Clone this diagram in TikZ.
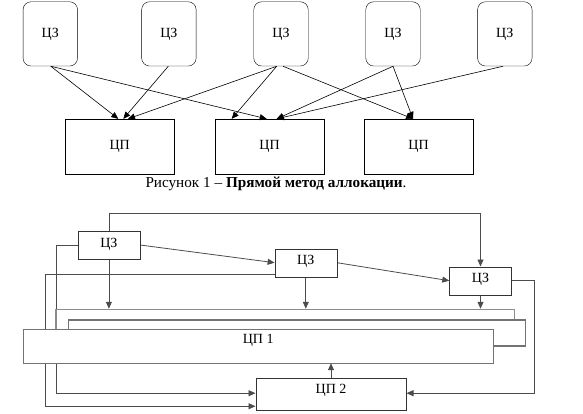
\documentclass[tikz,border=0pt]{standalone}
\usepackage{fontspec}
\setmainfont{Liberation Serif}
\usetikzlibrary{arrows.meta,backgrounds}

\tikzset{
  >={Triangle[length=7pt,width=6pt]},
  lbl/.style={font=\fontsize{14}{16}\selectfont},
  zbox/.style={lbl, draw, rounded corners=8pt, minimum width=54.5pt, minimum height=64.3pt, inner sep=0pt},
  pbox/.style={lbl, draw, minimum width=109.3pt, minimum height=55.3pt, inner sep=0pt},
  sbox/.style={lbl, draw=black!80, fill=white, minimum width=62pt, minimum height=28pt,
    inner ysep=0pt, text height=16pt, text depth=12pt},
  stackbox/.style={draw=black!45, fill=white, line width=1.1pt, inner sep=0pt},
  link/.style={draw=black!70, line width=0.8pt}
}

\begin{document}
\begin{tikzpicture}[x=1pt, y=-1pt]
    \useasboundingbox (0,0) rectangle (583,414);

    % Draw upper boxes
    \foreach \i/\x in {1/50.3, 2/168.9, 3/281, 4/393, 5/504.8}
      \node[zbox] (z\i) at (\x, 33.9) {ЦЗ};
    \foreach \i/\x in {1/119.7, 2/269.5, 3/418.5}
      \node[pbox] (p\i) at (\x, 146.7) {ЦП};

    % Draw direct links
    \foreach \a/\da/\b/\db in {1/0.5/1/-1.4, 1/0.5/2/-2.8, 2/-0.6/1/3.6, 3/-4.3/1/8.3,
        3/-4.3/2/-37.8, 3/2/3/-5.5, 4/0/2/7.2, 4/0/3/-5.5, 5/-1.8/2/7.2}
      \draw[->, line width=0.6pt] ([xshift=\da pt]z\a.south) -- ([xshift=\db pt]p\b.north);

    \node (cap) at (276, 184) {\fontsize{15.2}{18}\selectfont Рисунок 1 -- \textbf{Прямой метод аллокации}.};

    % Draw lower boxes
    \node[sbox] (za) at (108.9, 245) {ЦЗ};
    \node[sbox] (zb) at (305.8, 262.7) {ЦЗ};
    \node[sbox] (zc) at (480.5, 280.7) {ЦЗ};
    \node[stackbox, minimum width=458.7pt, minimum height=36.7pt] (cp1c) at (285.35, 327.65) {};
    \node[stackbox, draw=black!55, minimum width=457.4pt, minimum height=26pt] (cp1b) at (297, 333) {};
    \node[lbl, draw=black!55, fill=white, minimum width=469.7pt, minimum height=34pt,
      inner ysep=0pt, text height=14.3pt, text depth=19.7pt] (cp1) at (258.2, 346) {ЦП 1};
    \node[lbl, draw=black!80, fill=white, minimum width=150.6pt, minimum height=31.7pt,
      inner ysep=0pt, text height=15pt, text depth=16.7pt] (cp2) at (331, 394.2) {ЦП 2};

    % Draw links behind the boxes
    \begin{pgfonlayer}{background}
      \draw[link, ->] (za.north) -- ++(0,-17) -| (zc.north);
      \draw[link, ->] (za.east) -- (zb.west);
      \draw[link, ->] (zb.east) -- (zc.west);
      \draw[link, ->] (za.south) -- (za.south |- cp1c.north);
      \draw[link, ->] (zb.south) -- (zb.south |- cp1c.north);
      \draw[link, ->] (zc.south) -- (zc.south |- cp1c.north);
      \draw[link, ->] (za.west) -- ++(-21.7,0) |- ([yshift=1pt]cp2.west);
      \draw[link, ->] ([yshift=3pt]zb.south west) -- ++(-229,0) |- ([yshift=4pt]cp2.south west);
      \draw[link, ->] (zc.east) -- ++(22.4,0) |- ([yshift=1pt]cp2.east);
      \draw[link, ->] (cp2.north) -- (cp2.north |- cp1.south);
    \end{pgfonlayer}
  \end{tikzpicture}
\end{document}
